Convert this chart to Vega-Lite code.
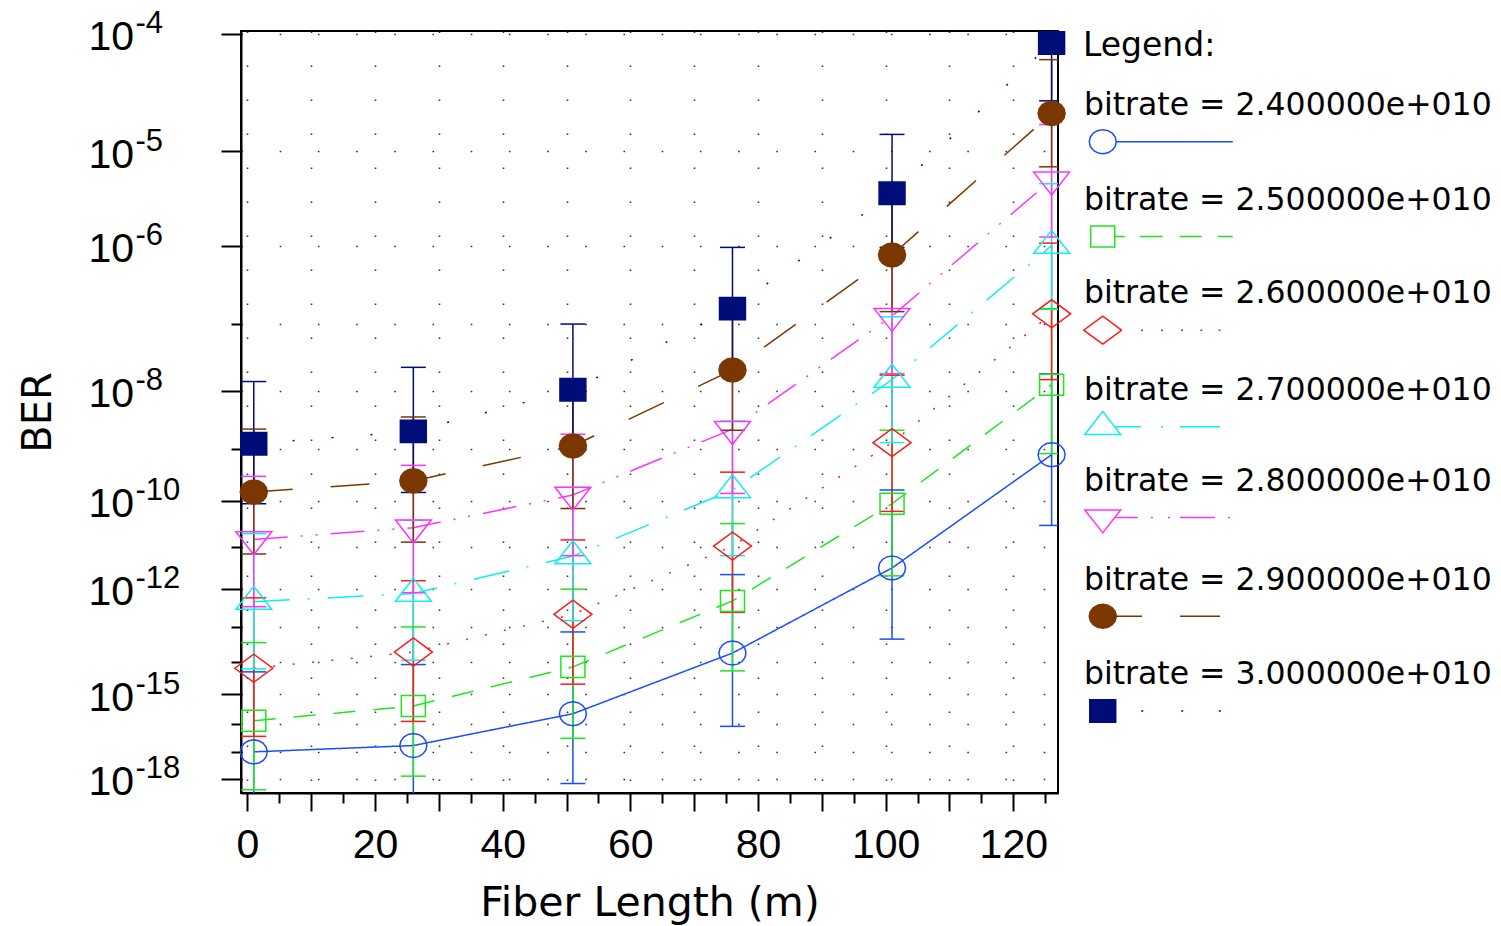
{
  "$schema": "https://vega.github.io/schema/vega-lite/v6.json",
  "width": 817,
  "height": 762,
  "autosize": {"type": "none"},
  "padding": {"left": 241, "top": 31, "right": 443, "bottom": 133},
  "background": "#ffffff",
  "config": {
    "view": {"stroke": "#000000", "strokeWidth": 2},
    "axis": {
      "labelFont": "Liberation Sans",
      "labelColor": "#000000",
      "domainColor": "#000000",
      "domainWidth": 2,
      "tickColor": "#000000",
      "tickWidth": 2,
      "gridColor": "#333333",
      "gridWidth": 1.6,
      "gridOpacity": 1,
      "titleFont": "DejaVu Sans",
      "titleFontWeight": "normal",
      "titleColor": "#000000",
      "labelFlush": false,
      "labelOverlap": false
    },
    "legend": {"padding": 0}
  },
  "data": {
    "values": [
      {"series": "bitrate = 2.400000e+010", "len": 1, "ber": -16.98, "lo": -19.7, "hi": -14.3},
      {"series": "bitrate = 2.400000e+010", "len": 26, "ber": -16.75, "lo": -19.5, "hi": -14.08},
      {"series": "bitrate = 2.400000e+010", "len": 51, "ber": -15.64, "lo": -18.19, "hi": -13.14},
      {"series": "bitrate = 2.400000e+010", "len": 76, "ber": -13.74, "lo": -16.07, "hi": -11.65},
      {"series": "bitrate = 2.400000e+010", "len": 101, "ber": -11.49, "lo": -13.34, "hi": -9.78},
      {"series": "bitrate = 2.400000e+010", "len": 126, "ber": -9.1, "lo": -10.52, "hi": -7.73},
      {"series": "bitrate = 2.500000e+010", "len": 1, "ber": -15.88, "lo": -18.44, "hi": -13.44},
      {"series": "bitrate = 2.500000e+010", "len": 26, "ber": -15.38, "lo": -17.9, "hi": -13.0},
      {"series": "bitrate = 2.500000e+010", "len": 51, "ber": -14.15, "lo": -16.49, "hi": -12.01},
      {"series": "bitrate = 2.500000e+010", "len": 76, "ber": -12.31, "lo": -14.27, "hi": -10.48},
      {"series": "bitrate = 2.500000e+010", "len": 101, "ber": -10.06, "lo": -11.68, "hi": -8.66},
      {"series": "bitrate = 2.500000e+010", "len": 126, "ber": -7.9, "lo": -9.08, "hi": -6.79},
      {"series": "bitrate = 2.600000e+010", "len": 1, "ber": -14.19, "lo": -16.42, "hi": -12.23},
      {"series": "bitrate = 2.600000e+010", "len": 26, "ber": -13.71, "lo": -15.9, "hi": -11.8},
      {"series": "bitrate = 2.600000e+010", "len": 51, "ber": -12.66, "lo": -14.68, "hi": -10.84},
      {"series": "bitrate = 2.600000e+010", "len": 76, "ber": -10.98, "lo": -12.61, "hi": -9.43},
      {"series": "bitrate = 2.600000e+010", "len": 101, "ber": -8.88, "lo": -10.22, "hi": -7.75},
      {"series": "bitrate = 2.600000e+010", "len": 126, "ber": -6.86, "lo": -7.82, "hi": -5.97},
      {"series": "bitrate = 2.700000e+010", "len": 1, "ber": -12.33, "lo": -14.21, "hi": -10.7},
      {"series": "bitrate = 2.700000e+010", "len": 26, "ber": -12.12, "lo": -13.95, "hi": -10.41},
      {"series": "bitrate = 2.700000e+010", "len": 51, "ber": -11.21, "lo": -12.83, "hi": -9.73},
      {"series": "bitrate = 2.700000e+010", "len": 76, "ber": -9.78, "lo": -11.2, "hi": -8.5},
      {"series": "bitrate = 2.700000e+010", "len": 101, "ber": -7.82, "lo": -8.88, "hi": -6.9},
      {"series": "bitrate = 2.700000e+010", "len": 126, "ber": -6.0, "lo": -6.8, "hi": -5.32},
      {"series": "bitrate = 2.800000e+010", "len": 1, "ber": -10.83, "lo": -12.46, "hi": -9.51},
      {"series": "bitrate = 2.800000e+010", "len": 26, "ber": -10.57, "lo": -12.1, "hi": -9.3},
      {"series": "bitrate = 2.800000e+010", "len": 51, "ber": -9.88, "lo": -11.2, "hi": -8.73},
      {"series": "bitrate = 2.800000e+010", "len": 76, "ber": -8.64, "lo": -9.85, "hi": -7.6},
      {"series": "bitrate = 2.800000e+010", "len": 101, "ber": -6.89, "lo": -7.73, "hi": -6.1},
      {"series": "bitrate = 2.800000e+010", "len": 126, "ber": -5.28, "lo": -5.9, "hi": -4.75},
      {"series": "bitrate = 2.900000e+010", "len": 1, "ber": -9.82, "lo": -11.16, "hi": -8.64},
      {"series": "bitrate = 2.900000e+010", "len": 26, "ber": -9.6, "lo": -10.89, "hi": -8.43},
      {"series": "bitrate = 2.900000e+010", "len": 51, "ber": -8.94, "lo": -10.16, "hi": -7.9},
      {"series": "bitrate = 2.900000e+010", "len": 76, "ber": -7.67, "lo": -8.66, "hi": -6.85},
      {"series": "bitrate = 2.900000e+010", "len": 101, "ber": -6.11, "lo": -6.83, "hi": -5.45},
      {"series": "bitrate = 2.900000e+010", "len": 126, "ber": -4.65, "lo": -5.15, "hi": -4.2},
      {"series": "bitrate = 3.000000e+010", "len": 1, "ber": -8.9, "lo": -10.06, "hi": -7.85},
      {"series": "bitrate = 3.000000e+010", "len": 26, "ber": -8.68, "lo": -9.83, "hi": -7.63},
      {"series": "bitrate = 3.000000e+010", "len": 51, "ber": -7.98, "lo": -8.98, "hi": -7.0},
      {"series": "bitrate = 3.000000e+010", "len": 76, "ber": -6.79, "lo": -7.65, "hi": -6.02},
      {"series": "bitrate = 3.000000e+010", "len": 101, "ber": -5.42, "lo": -6.02, "hi": -4.84},
      {"series": "bitrate = 3.000000e+010", "len": 126, "ber": -4.07, "lo": -4.54, "hi": -3.65}
    ]
  },
  "resolve": {"axis": {"x": "independent", "y": "independent"}},
  "layer": [
    {
      "mark": {"type": "line", "strokeWidth": 1.5, "clip": true},
      "encoding": {
        "x": {
          "field": "len", "type": "quantitative",
          "scale": {"domain": [-1, 127], "nice": false, "zero": false},
          "axis": {
            "orient": "bottom",
            "values": [0, 10, 20, 30, 40, 50, 60, 70, 80, 90, 100, 110, 120],
            "tickSize": 18,
            "labelExpr": "datum.value % 20 == 0 ? datum.label : ''",
            "labelFontSize": 41,
            "labelPadding": 14,
            "grid": true,
            "gridDash": [1.6, 32.4],
            "title": "Fiber Length (m)",
            "titleFontSize": 41,
            "titleY": 122,
            "titleBaseline": "alphabetic"
          }
        },
        "y": {
          "field": "ber", "type": "quantitative",
          "scale": {"type": "pow", "exponent": -0.1, "domain": [-18.57, -3.98], "nice": false, "zero": false},
          "axis": {
            "orient": "left",
            "values": [-4, -5, -6, -8, -10, -12, -15, -18],
            "tickSize": 20,
            "labelExpr": "'10'",
            "labelAlign": "left",
            "labelBaseline": "alphabetic",
            "labelOffset": 16,
            "labelPadding": 133,
            "labelFontSize": 41,
            "grid": true,
            "gridDash": [1.6, 36.6],
            "title": "BER",
            "titleFontSize": 40,
            "titleX": -191,
            "titleY": 381,
            "titleBaseline": "alphabetic",
            "titleAngle": -90,
            "titleAlign": "center"
          }
        },
        "stroke": {
          "field": "series", "type": "nominal",
          "scale": {"range": ["#1a4cff", "#1ee61e", "#ff1a1a", "#10eeee", "#ff33ff", "#7a3800", "#000c78"]},
          "legend": {
            "orient": "none",
            "legendX": 842,
            "legendY": -1,
            "direction": "vertical",
            "columns": 1,
            "title": "Legend:",
            "titleFont": "DejaVu Sans",
            "titleFontSize": 33,
            "titleFontWeight": "normal",
            "titleColor": "#000000",
            "titleAnchor": "start",
            "titlePadding": 63,
            "labelFont": "DejaVu Sans",
            "labelFontSize": 31.5,
            "labelColor": "#000000",
            "labelLimit": 0,
            "labelOffset": -34.5,
            "labelBaseline": "alphabetic",
            "symbolSize": 729,
            "symbolStrokeWidth": 1.5,
            "symbolOffset": 4,
            "rowPadding": 27.7,
            "padding": 0,
            "encode": {
              "symbols": {
                "update": {
                  "shape": {"signal": "['M1,0L0.924,0.341L0.707,0.629L0.383,0.822L0,0.89L-0.383,0.822L-0.707,0.629L-0.924,0.341L-1,0L-0.924,-0.341L-0.707,-0.629L-0.383,-0.822L0,-0.89L0.383,-0.822L0.707,-0.629L0.924,-0.341L1,0L9.63,0', 'M0.89,0L0.89,0.78L-0.89,0.78L-0.89,-0.78L0.89,-0.78L0.89,0L9.63,0', 'M1.41,0L0,1.04L-1.41,0L0,-1.04L1.41,0L9.63,0', 'M0.887,0L1.33,0.567L-1.33,0.567L0,-1.133L0.887,0L9.63,0', 'M0.887,0L0,1.133L-1.33,-0.567L1.33,-0.567L0.887,0L9.63,0', 'M1,0L0.924,0.341L0.707,0.629L0.383,0.822L0,0.89L-0.383,0.822L-0.707,0.629L-0.924,0.341L-1,0L-0.924,-0.341L-0.707,-0.629L-0.383,-0.822L0,-0.89L0.383,-0.822L0.707,-0.629L0.924,-0.341L1,0L9.63,0', 'M0.96,0L0.96,0.83L-0.96,0.83L-0.96,-0.83L0.96,-0.83L0.96,0L9.63,0'][datum.index]"},
                  "strokeDash": {"signal": "[[1,0], [100.2,15,23,17,22,16,20], [94.4,19.4,2,18,2,18,2,17.3,2,16.3,2,20], [120.4,20,2,17,40,20], [117.4,13,2,15,2,10,35,13,2,10], [105.5,38,40,20], [96.8,25.4,2,38,2,35.6,2,20]][datum.index]"},
                  "stroke": {"signal": "['#1a4cff', '#1ee61e', '#ff1a1a', '#10eeee', '#ff33ff', '#7a3800', '#000c78'][datum.index]"},
                  "fill": {"signal": "['rgba(0,0,0,0)', 'rgba(0,0,0,0)', 'rgba(0,0,0,0)', 'rgba(0,0,0,0)', 'rgba(0,0,0,0)', '#7a3800', '#000c78'][datum.index]"},
                  "strokeWidth": {"value": 1.5},
                  "opacity": {"value": 1},
                  "size": {"value": 729}
                }
              },
              "labels": {"update": {"dy": {"value": -26.7}}}
            }
          }
        },
        "strokeDash": {
          "field": "series", "type": "nominal",
          "scale": {"range": [[1, 0], [22, 18], [2, 17.5], [36, 18, 2, 18], [34, 13, 2, 13, 2, 13], [39, 38], [2, 37]]},
          "legend": null
        }
      }
    },
    {
      "mark": {"type": "rule", "strokeWidth": 1.5, "clip": true},
      "encoding": {
        "x": {
          "field": "len", "type": "quantitative",
          "axis": {
            "orient": "bottom",
            "values": [5, 15, 25, 35, 45, 55, 65, 75, 85, 95, 105, 115, 125],
            "tickSize": 10,
            "labels": false,
            "domain": false,
            "grid": false,
            "title": null
          }
        },
        "y": {
          "field": "lo", "type": "quantitative",
          "axis": {
            "orient": "left",
            "values": [-7, -9, -11, -13, -14, -16, -17],
            "tickSize": 10,
            "labels": false,
            "domain": false,
            "grid": true,
            "gridDash": [1.6, 36.6],
            "title": null
          }
        },
        "y2": {"field": "hi"},
        "stroke": {"field": "series", "type": "nominal"}
      }
    },
    {
      "mark": {"type": "tick", "orient": "horizontal", "size": 25, "thickness": 1.5, "opacity": 1, "clip": true},
      "encoding": {
        "x": {"field": "len", "type": "quantitative", "axis": null},
        "y": {
          "field": "lo", "type": "quantitative",
          "axis": {
            "orient": "left",
            "values": [-4, -5, -6, -8, -10, -12, -15, -18],
            "ticks": false,
            "domain": false,
            "grid": false,
            "labelExpr": "'-' + (-datum.value)",
            "labelAlign": "left",
            "labelBaseline": "alphabetic",
            "labelOffset": -1,
            "labelPadding": 106,
            "labelFontSize": 31,
            "title": null
          }
        },
        "color": {
          "field": "series", "type": "nominal",
          "scale": {"range": ["#1a4cff", "#1ee61e", "#ff1a1a", "#10eeee", "#ff33ff", "#7a3800", "#000c78"]},
          "legend": null
        }
      }
    },
    {
      "mark": {"type": "tick", "orient": "horizontal", "size": 25, "thickness": 1.5, "opacity": 1, "clip": true},
      "encoding": {
        "x": {"field": "len", "type": "quantitative", "axis": null},
        "y": {"field": "hi", "type": "quantitative", "axis": null},
        "color": {"field": "series", "type": "nominal", "legend": null}
      }
    },
    {
      "mark": {"type": "point", "size": 729, "strokeWidth": 1.5, "opacity": 1},
      "encoding": {
        "x": {"field": "len", "type": "quantitative", "axis": null},
        "y": {"field": "ber", "type": "quantitative", "axis": null},
        "fill": {
          "field": "series", "type": "nominal",
          "scale": {"range": ["rgba(0,0,0,0)", "rgba(0,0,0,0)", "rgba(0,0,0,0)", "rgba(0,0,0,0)", "rgba(0,0,0,0)", "#7a3800", "#000c78"]},
          "legend": null
        },
        "shape": {
          "field": "series", "type": "nominal",
          "scale": {"range": [
            "M1,0L0.924,0.341L0.707,0.629L0.383,0.822L0,0.89L-0.383,0.822L-0.707,0.629L-0.924,0.341L-1,0L-0.924,-0.341L-0.707,-0.629L-0.383,-0.822L0,-0.89L0.383,-0.822L0.707,-0.629L0.924,-0.341Z",
            "M-0.89,-0.78L0.89,-0.78L0.89,0.78L-0.89,0.78Z",
            "M-1.41,0L0,-1.04L1.41,0L0,1.04Z",
            "M0,-1.133L1.33,0.567L-1.33,0.567Z",
            "M0,1.133L1.33,-0.567L-1.33,-0.567Z",
            "M1,0L0.924,0.341L0.707,0.629L0.383,0.822L0,0.89L-0.383,0.822L-0.707,0.629L-0.924,0.341L-1,0L-0.924,-0.341L-0.707,-0.629L-0.383,-0.822L0,-0.89L0.383,-0.822L0.707,-0.629L0.924,-0.341Z",
            "M-0.96,-0.83L0.96,-0.83L0.96,0.83L-0.96,0.83Z"
          ]},
          "legend": null
        },
        "stroke": {"field": "series", "type": "nominal"}
      }
    }
  ]
}
